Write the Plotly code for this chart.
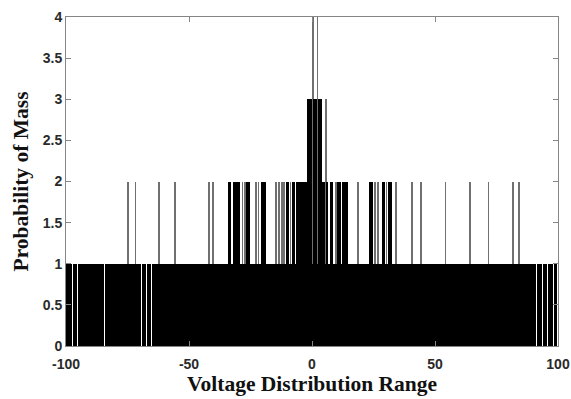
import numpy as np
import plotly.graph_objects as go

# ---- data ----
bin_width = 0.5
bin_centers = np.arange(-99.75, 100.0, bin_width)   # histogram bins over the range

# bins that are empty (white gaps inside the unit band)
empty_bins = [-99.25, -97.25, -95.25, -93.75, -91.75, -89.75, -84.25,
              -69.25, -67.25, -65.25, -61.75, -59.75,
              86.25, 87.75, 88.75, 90.25, 91.25, 92.75, 93.75, 94.75,
              95.75, 96.75, 98.25, 99.75]

# bins with a count of 2
double_bins = [-74.75, -71.75, -62.25, -55.75, -41.75, -40.25,
               -33.75, -33.25, -31.75, -31.25, -30.25, -29.75, -28.25, -27.25,
               -26.25, -25.75, -22.75, -21.75, -20.25, -19.75, -19.25, -14.75,
               -13.25, -12.25, -11.25, -10.25, -9.75, -8.75, -7.75, -7.25,
               -6.25, -5.75,
               -5.25, -4.75, -4.25, -3.75, -3.25, -2.75, -2.25,
               4.25, 4.75, 5.25, 6.25,
               7.75, 8.25, 9.75, 10.75, 11.25, 12.75, 13.25, 13.75, 14.25,
               18.75, 23.75, 24.25, 25.75, 26.75, 28.75, 29.25, 30.25, 31.25,
               31.75, 32.25, 34.25, 40.75, 44.25, 54.25, 64.25, 71.75, 81.75,
               84.25]

# bins with a count of 3
triple_bins = [-1.75, -1.25, -0.75, -0.25, 0.75, 1.25, 1.75, 2.75, 3.25,
               3.75, 5.75]

# bins with a count of 4
quad_bins = [0.25, 2.25]

x_ticks = [-100, -50, 0, 50, 100]
x_tick_text = ["-100", "-50", "0", "50", "100"]
y_ticks = [0, 0.5, 1, 1.5, 2, 2.5, 3, 3.5, 4]
y_tick_text = ["0", "0.5", "1", "1.5", "2", "2.5", "3", "3.5", "4"]

# ---- build counts ----
counts = np.ones(len(bin_centers))
lookup = {round(c, 2): i for i, c in enumerate(bin_centers)}
for v, lst in ((0, empty_bins), (2, double_bins), (3, triple_bins), (4, quad_bins)):
    for c in lst:
        counts[lookup[round(c, 2)]] = v

band = np.minimum(counts, 1)          # first unit of every bin
excess = np.clip(counts - 1, 0, None)  # part above the unit band

# isolated tall bins are drawn as grey hairlines (as in the source figure)
widths = np.full(len(bin_centers), bin_width)
colors = ["black"] * len(bin_centers)
for i in range(len(counts)):
    if counts[i] >= 2:
        left = counts[i - 1] if i > 0 else 0
        right = counts[i + 1] if i < len(counts) - 1 else 0
        if left < counts[i] and right < counts[i]:
            widths[i] = 0.34
            colors[i] = "#707070"

fig = go.Figure()
fig.add_trace(go.Bar(
    x=bin_centers, y=band, width=bin_width,
    marker=dict(color="black", line=dict(width=0)), hoverinfo="skip",
))
fig.add_trace(go.Bar(
    x=bin_centers, y=excess, width=widths,
    marker=dict(color=colors, line=dict(width=0)), hoverinfo="skip",
))

axis_col = "#868686"
tick_font = dict(family="Liberation Sans, Arial, sans-serif", size=14, color="#2a2a2a")
title_font = dict(family="Liberation Serif, Times New Roman, serif", size=21.5, color="#111111")

fig.update_layout(
    width=571, height=399,
    margin=dict(l=66, r=13, t=17, b=53),
    paper_bgcolor="white", plot_bgcolor="white",
    barmode="stack", bargap=0, showlegend=False,
    xaxis=dict(range=[-100, 100], tickvals=x_ticks,
               ticktext=["<b>%s</b>" % t for t in x_tick_text],
               ticks="inside", ticklen=5, automargin=False, ticklabelstandoff=5,
               tickcolor=axis_col, showline=True, linecolor=axis_col, linewidth=1,
               mirror="ticks", showgrid=False, zeroline=False, tickfont=tick_font,
               title=dict(text="<b>Voltage Distribution Range</b>", font=title_font, standoff=4)),
    yaxis=dict(range=[0, 4], tickvals=y_ticks, ticktext=["<b>%s</b>" % t for t in y_tick_text],
               ticks="inside", automargin=False,
               ticklen=5, tickcolor=axis_col, showline=True, linecolor=axis_col,
               linewidth=1, mirror="ticks", showgrid=False, zeroline=False,
               tickfont=tick_font,
               title=dict(text="<b>Probability of Mass</b>", font=title_font, standoff=8)),
)

fig.write_html("out.html", config={"displayModeBar": False})
